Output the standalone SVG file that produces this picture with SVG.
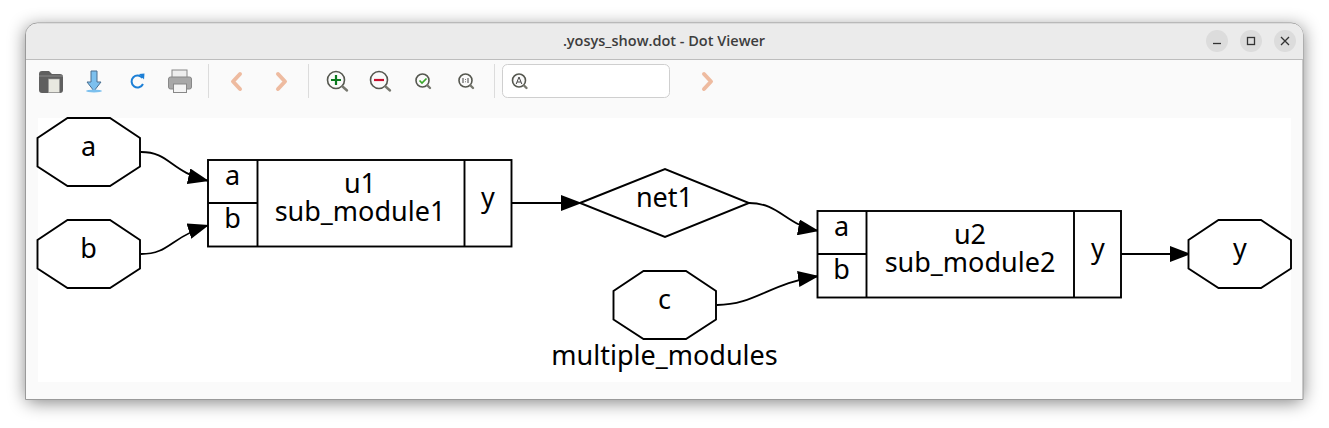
<svg xmlns="http://www.w3.org/2000/svg" width="1329" height="428" viewBox="0 0 1329 428">
<style>
.t{font-family:"Noto Sans","Open Sans","DejaVu Sans",sans-serif;font-size:27px;fill:#000;text-anchor:middle}
.s{fill:#fff;stroke:#000;stroke-width:1.900}
.l{fill:none;stroke:#000;stroke-width:1.900}
.e{fill:none;stroke:#000;stroke-width:1.800;marker-end:url(#arrow)}
.sep{stroke:#dcdcdc;stroke-width:1}
.mg{fill:#fafafa;stroke:#55574f;stroke-width:1.600}
.mh{stroke:#77786f;stroke-width:2.400;stroke-linecap:round}
.btn{fill:#dcdcdc}
.wi{fill:none;stroke:#333;stroke-width:1.300}
</style>
<defs>
<filter id="sh" x="-5%" y="-20%" width="110%" height="140%"><feGaussianBlur stdDeviation="9"/></filter>
<marker id="arrow" markerUnits="userSpaceOnUse" markerWidth="22" markerHeight="16" refX="21" refY="8" orient="auto"><path d="M0 0L21 8L0 16Z" fill="#000"/></marker>
<polygon id="oct" points="30,0 72.500,0 102.500,20 102.500,48.500 72.500,68 30,68 0,48.500 0,20" class="s"/>
</defs>
<rect width="1329" height="428" fill="#fff"/>
<g id="window">
<rect x="26" y="27" width="1277" height="375" rx="6" fill="#000" opacity=".5" filter="url(#sh)"/>
<path d="M25.500 399.500V35a12 12 0 0 1 12-12H1291a12 12 0 0 1 12 12V399.500Z" fill="#fafafa" stroke="#9a9a9a" stroke-width="1"/>
<path d="M26 59V35a11.500 11.500 0 0 1 11.500-11.500H1291.500a11.500 11.500 0 0 1 11.500 11.500V59Z" fill="#ebebeb"/>
<path d="M26 59.500H1303" stroke="#bdbdbd" stroke-width="1"/>
<text x="664" y="46" font-size="14.500" font-weight="600" fill="#3d3d3d" text-anchor="middle" font-family="'Open Sans','Noto Sans',sans-serif">.yosys_show.dot - Dot Viewer</text>
<circle class="btn" cx="1217" cy="41" r="11"/><circle class="btn" cx="1251" cy="41" r="11"/><circle class="btn" cx="1285" cy="41" r="11"/>
<path class="wi" d="M1213 43.500H1221"/><rect class="wi" x="1247.500" y="37.500" width="7" height="7"/><path class="wi" d="M1281 37L1289 45M1289 37L1281 45"/>
</g>
<g id="toolbar">
<path d="M39 74a3 3 0 0 1 3-3h7l3 3h8a3 3 0 0 1 3 3v13a3 3 0 0 1-3 3H42a3 3 0 0 1-3-3Z" fill="#5f5f5f"/><path d="M39 76H63" stroke="#8a8a8a"/><rect x="48.500" y="79" width="11" height="13.500" fill="#e8e8e0" stroke="#999" stroke-width=".6"/>
<path d="M91 71h6v11h4l-7 9-7-9h4Z" fill="#7cc0ee" stroke="#4a6f90"/><ellipse cx="94" cy="91" rx="8" ry="1.500" fill="#7cc0ee"/>
<path d="M142.500 78a6 6 0 1 0 .5 6" fill="none" stroke="#1c7fd6" stroke-width="2"/><path d="M139 74l5.500-.5-.5 6Z" fill="#1c7fd6"/>
<rect x="172" y="70" width="15" height="8" fill="#eee" stroke="#888"/><rect x="168.500" y="77" width="23" height="12" rx="2" fill="#a8a8a8" stroke="#888"/><rect x="173.500" y="84" width="13" height="8.500" fill="#f4f4f4" stroke="#888"/>
<path class="sep" d="M208.500 64V98M308.500 64V98M494.500 64V98"/>
<path d="M240 74L233 81.500L240 89" fill="none" stroke="#eebba0" stroke-width="4" stroke-linecap="round" stroke-linejoin="round"/>
<path d="M278 74L285 81.500L278 89" fill="none" stroke="#eebba0" stroke-width="4" stroke-linecap="round" stroke-linejoin="round"/>
<circle class="mg" cx="336" cy="80" r="8.500"/><path class="mh" d="M342.500 86.500L347 90.500"/><path d="M331 80H341M336 75V85" stroke="#0a7a1e" stroke-width="2.200"/>
<circle class="mg" cx="379" cy="80" r="8.500"/><path class="mh" d="M385.500 86.500L390 90.500"/><path d="M374 80H384" stroke="#c8102e" stroke-width="2.200"/>
<circle class="mg" cx="422.500" cy="80.500" r="6.500"/><path class="mh" d="M427.500 85.500L430 88" stroke-width="1.800"/><path d="M419.500 80.500L422 83L426.500 78.500" fill="none" stroke="#3aa82a" stroke-width="1.700"/>
<circle class="mg" cx="465.500" cy="80.500" r="6.500"/><path class="mh" d="M470.500 85.500L473 88" stroke-width="1.800"/><path d="M463 78V83M468 78V83M465.500 79V79.700M465.500 81.500V82.200" stroke="#444" stroke-width="1"/>
<rect x="502.500" y="64.500" width="167" height="33" rx="5" fill="#fff" stroke="#cfcfcf"/>
<circle class="mg" cx="519" cy="80.500" r="6.500"/><path class="mh" d="M524 85.500L526.500 88" stroke-width="1.800"/><path d="M516.200 84L519 77L521.800 84M517.200 82H520.800" fill="none" stroke="#444" stroke-width="1"/>
<path d="M704 74L711 81.500L704 89" fill="none" stroke="#eebba0" stroke-width="4" stroke-linecap="round" stroke-linejoin="round"/>
</g>
<rect id="canvas" x="38" y="118" width="1253" height="264" fill="#fff"/>
<g id="connectors">
<path class="e" d="M141 152C170 152 170 172 209 181"/>
<path class="e" d="M141 254C170 254 170 237 209 225"/>
<path class="e" d="M511 203H582"/>
<path class="e" d="M749 203C780 203 785 225 819 231"/>
<path class="e" d="M717 305C755 305 770 283 819 276"/>
<path class="e" d="M1121 254H1191"/>
</g>
<g id="node-a"><use href="#oct" x="37.500" y="118"/><text class="t" x="88.500" y="156">a</text></g>
<g id="node-b"><use href="#oct" x="37.500" y="220"/><text class="t" x="88.500" y="258">b</text></g>
<g id="node-c"><use href="#oct" x="613.500" y="271"/><text class="t" x="664.500" y="309">c</text></g>
<g id="node-y"><use href="#oct" x="1188.500" y="220"/><text class="t" x="1240" y="258">y</text></g>
<g id="node-net1"><polygon class="s" points="580,203 665,169 749,203 665,237"/><text class="t" x="664.500" y="207">net1</text></g>
<g id="node-u1">
<rect class="s" x="208" y="160" width="303.500" height="86.500"/>
<path class="l" d="M257.500 160V246.500M464.500 160V246.500M208 203H257.500"/>
<text class="t" x="232.500" y="185">a</text><text class="t" x="232.500" y="228">b</text>
<text class="t" x="360" y="193">u1</text><text class="t" x="360" y="221">sub_module1</text>
<text class="t" x="488" y="207">y</text>
</g>
<g id="node-u2">
<rect class="s" x="817.500" y="211" width="303.500" height="86.500"/>
<path class="l" d="M866.500 211V297.500M1074 211V297.500M817.500 254H866.500"/>
<text class="t" x="841.500" y="236">a</text><text class="t" x="841.500" y="279">b</text>
<text class="t" x="970" y="244">u2</text><text class="t" x="970" y="272">sub_module2</text>
<text class="t" x="1098" y="258">y</text>
</g>
<text id="graph-label" class="t" x="664.500" y="365">multiple_modules</text>
</svg>
